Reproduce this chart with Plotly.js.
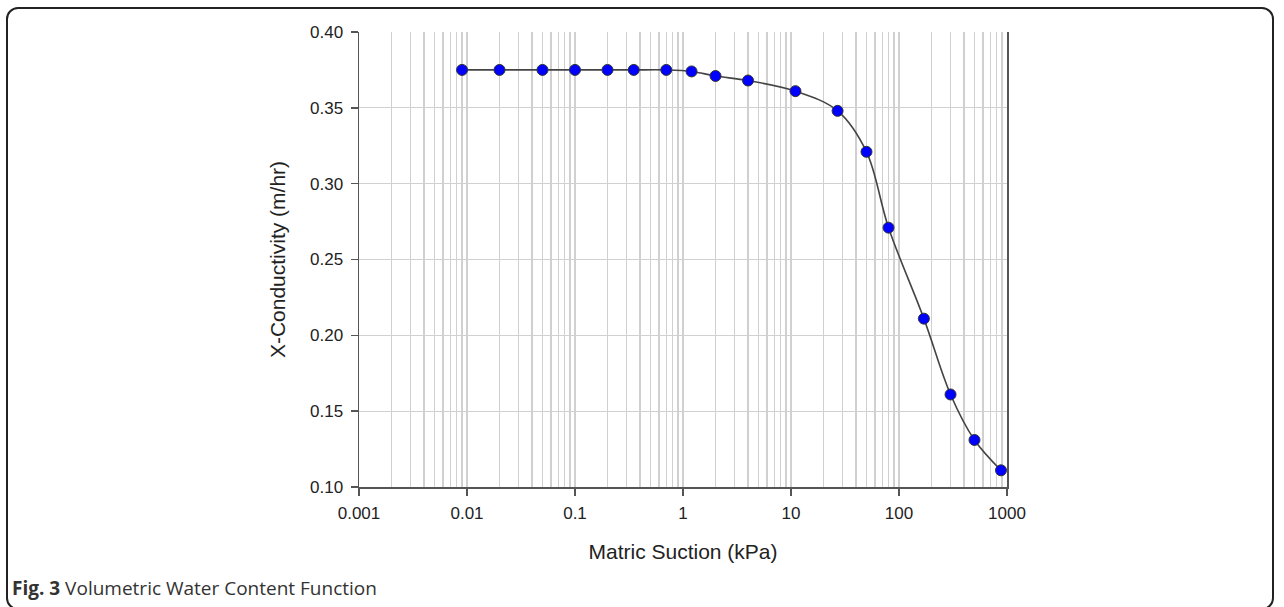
<!DOCTYPE html>
<html>
<head>
<meta charset="utf-8">
<script src="https://cdn.plot.ly/plotly-3.0.1.min.js"></script>
<style>
  html, body { margin: 0; padding: 0; background: #ffffff; }
  #wrap { position: relative; width: 1284px; height: 607px; overflow: hidden; }
  #chart { position: absolute; left: 0; top: 0; width: 1284px; height: 607px; }
  #card { position: absolute; left: 6px; top: 7px; width: 1268px; height: 603px;
          border: 2px solid #222; border-radius: 12px; pointer-events: none; box-sizing: border-box; }
  #caption { position: absolute; left: 12px; top: 577px; font-family: "Open Sans", sans-serif;
             font-size: 19px; line-height: 22px; color: #333; white-space: nowrap; }
  #caption b { font-weight: 700; }
</style>
</head>
<body>
<div id="wrap">
  <div id="chart"></div>
  <div id="card"></div>
  <div id="caption"><b>Fig. 3</b> Volumetric Water Content Function</div>
</div>
<script>
// Data
var suction = [0.009, 0.02, 0.05, 0.1, 0.2, 0.35, 0.7, 1.2, 2, 4, 11, 27, 50, 80, 170, 300, 500, 880];
var conductivity = [0.375, 0.375, 0.375, 0.375, 0.375, 0.375, 0.375, 0.374, 0.371, 0.368, 0.361, 0.348, 0.321, 0.271, 0.211, 0.161, 0.131, 0.111];
var xTickVals = [0.001, 0.01, 0.1, 1, 10, 100, 1000];
var xTickText = ["0.001", "0.01", "0.1", "1", "10", "100", "1000"];
var xTitle = "Matric Suction (kPa)";
var yTitle = "X-Conductivity (m/hr)";

var trace = {
  x: suction,
  y: conductivity,
  type: "scatter",
  mode: "lines+markers",
  line: { color: "#444444", width: 1.6, shape: "spline", smoothing: 1 },
  marker: { color: "#0000ff", size: 11, line: { color: "#333333", width: 1 } },
  hoverinfo: "x+y"
};

var gridCol = "#d0d0d0";
var axisCol = "#555555";

var layout = {
  width: 1284,
  height: 607,
  margin: { l: 359, r: 277, t: 32, b: 120 },
  paper_bgcolor: "rgba(0,0,0,0)",
  plot_bgcolor: "#ffffff",
  showlegend: false,
  font: { family: "Liberation Sans, Arial, sans-serif", color: "#222222" },
  xaxis: {
    type: "log",
    range: [-3, 3],
    tickmode: "array",
    tickvals: xTickVals,
    ticktext: xTickText,
    ticks: "outside",
    ticklen: 7,
    tickwidth: 1.5,
    tickcolor: axisCol,
    ticklabelstandoff: 3,
    tickfont: { size: 17, color: "#222222" },
    showgrid: true,
    gridcolor: gridCol,
    gridwidth: 1.2,
    minor: { dtick: "D1", showgrid: true, gridcolor: gridCol, gridwidth: 1.2, ticks: "" },
    showline: true,
    linecolor: axisCol,
    linewidth: 1.5,
    mirror: false,
    zeroline: false,
    title: { text: xTitle, font: { size: 21, color: "#222222" }, standoff: 22 }
  },
  yaxis: {
    range: [0.10, 0.40],
    dtick: 0.05,
    tick0: 0.10,
    tickformat: ".2f",
    ticks: "outside",
    ticklen: 7,
    tickwidth: 1.5,
    tickcolor: axisCol,
    ticklabelstandoff: 4,
    tickfont: { size: 17, color: "#222222" },
    showgrid: true,
    gridcolor: gridCol,
    gridwidth: 1.2,
    showline: true,
    linecolor: axisCol,
    linewidth: 1.5,
    mirror: true,
    zeroline: false,
    title: { text: yTitle, font: { size: 21, color: "#222222" }, standoff: 18 }
  }
};

Plotly.newPlot("chart", [trace], layout, { displayModeBar: false, staticPlot: true });
</script>
</body>
</html>
